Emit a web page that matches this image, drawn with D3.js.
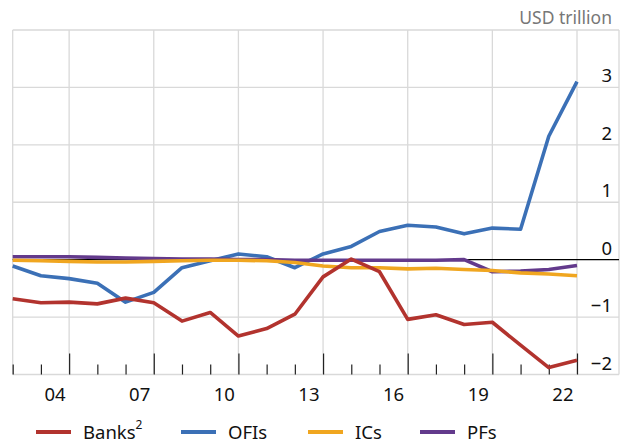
<!DOCTYPE html>
<html>
<head>
<meta charset="utf-8">
<script src="https://cdn.jsdelivr.net/npm/d3@7"></script>
<style>
  body { margin: 0; background: #fff; }
  svg { display: block; font-family: "Noto Sans", "Open Sans", sans-serif; }
</style>
</head>
<body>
<svg class="chart" width="622" height="445"></svg>
<script>
var years = d3.range(2002, 2023);
var banks = [-0.68, -0.75, -0.74, -0.77, -0.67, -0.75, -1.07, -0.92, -1.33, -1.2, -0.95,
  -0.3, 0.01, -0.21, -1.04, -0.96, -1.13, -1.09, -1.49, -1.88, -1.75];
var ofis = [-0.11, -0.28, -0.33, -0.41, -0.74, -0.57, -0.14, -0.02, 0.1, 0.05, -0.14,
  0.1, 0.23, 0.49, 0.6, 0.57, 0.45, 0.55, 0.53, 2.15, 3.1];
var ics = [-0.01, -0.02, -0.03, -0.04, -0.04, -0.03, -0.02, -0.01, -0.01, -0.02, -0.05,
  -0.11, -0.14, -0.14, -0.16, -0.15, -0.17, -0.19, -0.23, -0.25, -0.28];
var pfs = [0.05, 0.05, 0.05, 0.04, 0.03, 0.02, 0.01, 0.01, 0, 0, -0.01,
  -0.01, -0.01, -0.01, -0.01, -0.01, 0.0, -0.21, -0.2, -0.17, -0.1];
var majorYears = [2004, 2007, 2010, 2013, 2016, 2019, 2022];
var yTicks = [-2, -1, 0, 1, 2, 3];
var seriesNames = ["Banks", "OFIs", "ICs", "PFs"];
var seriesColors = ["#b2332e", "#3b70b6", "#f0a620", "#633a8c"];
var seriesData = [banks, ofis, ics, pfs];

var pLeft = 12.7, pRight = 619, pTop = 30, pBottom = 374.5;
var svg = d3.select('.chart');

var x = d3.scaleLinear().domain([2002, 2022]).range([pLeft, 577]);
var y = d3.scaleLinear().domain([-2, 4]).range([pBottom, pTop]);

// grid
var grid = svg.append('g').attr('class', 'grid');
grid.selectAll('line.h').data([-1, 1, 2, 3, 4])
  .enter().append('line')
  .attr('x1', pLeft).attr('x2', pRight)
  .attr('y1', function(d) { return y(d); }).attr('y2', function(d) { return y(d); })
  .attr('stroke', '#d9d9d9').attr('stroke-width', 1.3);
grid.selectAll('line.v').data([2002].concat(majorYears))
  .enter().append('line')
  .attr('x1', function(d) { return x(d); }).attr('x2', function(d) { return x(d); })
  .attr('y1', pTop).attr('y2', pBottom)
  .attr('stroke', '#d9d9d9').attr('stroke-width', 1.3);
grid.append('line').attr('x1', pRight).attr('x2', pRight).attr('y1', pTop).attr('y2', pBottom)
  .attr('stroke', '#d9d9d9').attr('stroke-width', 1.3);
grid.append('line').attr('x1', pLeft).attr('x2', pRight).attr('y1', pBottom).attr('y2', pBottom)
  .attr('stroke', '#d9d9d9').attr('stroke-width', 1.3);

// x ticks: minor every year, major every three
svg.append('g').attr('transform', 'translate(0,' + pBottom + ')')
  .call(d3.axisBottom(x).tickValues(years.filter(function(d) { return majorYears.indexOf(d) < 0; }))
    .tickSize(-10).tickFormat(''));
svg.append('g').attr('transform', 'translate(0,' + pBottom + ')')
  .call(d3.axisBottom(x).tickValues(majorYears).tickSize(-21).tickFormat(''));
svg.selectAll('.domain').remove();
svg.selectAll('.tick line').attr('stroke', '#222').attr('stroke-width', 1.2);

// year labels sit in the middle of each year's interval
svg.append('g').selectAll('text').data(majorYears)
  .enter().append('text')
  .attr('x', function(d) { return x(d - 0.5); })
  .attr('y', 401)
  .attr('text-anchor', 'middle')
  .attr('font-size', 18.5).attr('fill', '#111')
  .text(function(d) { return d3.format('02d')(d % 100); });

// y labels
svg.append('g').selectAll('text').data(yTicks)
  .enter().append('text')
  .attr('x', 612)
  .attr('y', function(d) { return y(d) - 5; })
  .attr('text-anchor', 'end')
  .attr('font-size', 18.5).attr('fill', '#111')
  .text(function(d) { return d3.format('d')(d); });

svg.append('text').attr('x', 612).attr('y', 24).attr('text-anchor', 'end')
  .attr('font-size', 17.5).attr('fill', '#777').text('USD trillion');

// lines
var line = d3.line()
  .x(function(d, i) { return x(years[i]); })
  .y(function(d) { return y(d); });

var lines = svg.append('g');
lines.append('path').datum(ofis)
  .attr('d', line).attr('fill', 'none')
  .attr('stroke', seriesColors[1]).attr('stroke-width', 3.6)
  .attr('stroke-linejoin', 'round');
// zero line
lines.append('line').attr('x1', pLeft).attr('x2', pRight).attr('y1', y(0)).attr('y2', y(0))
  .attr('stroke', '#000').attr('stroke-width', 1.3);
[3, 2, 0].forEach(function(k) {
  lines.append('path').datum(seriesData[k])
    .attr('d', line).attr('fill', 'none')
    .attr('stroke', seriesColors[k]).attr('stroke-width', 3.6)
    .attr('stroke-linejoin', 'round');
});

// legend
var legendX = [36, 181, 308, 420];
var legend = svg.append('g').selectAll('g').data(seriesNames)
  .enter().append('g')
  .attr('transform', function(d, i) { return 'translate(' + legendX[i] + ',432)'; });
legend.append('line').attr('x1', 0).attr('x2', 35)
  .attr('stroke', function(d, i) { return seriesColors[i]; }).attr('stroke-width', 4);
legend.append('text').attr('x', 47).attr('y', 6.5)
  .attr('font-size', 18.5).attr('fill', '#111')
  .text(function(d) { return d; })
  .filter(function(d) { return d == 'Banks'; })
  .append('tspan').attr('dy', -10).attr('font-size', 12).text('2');
</script>
</body>
</html>
